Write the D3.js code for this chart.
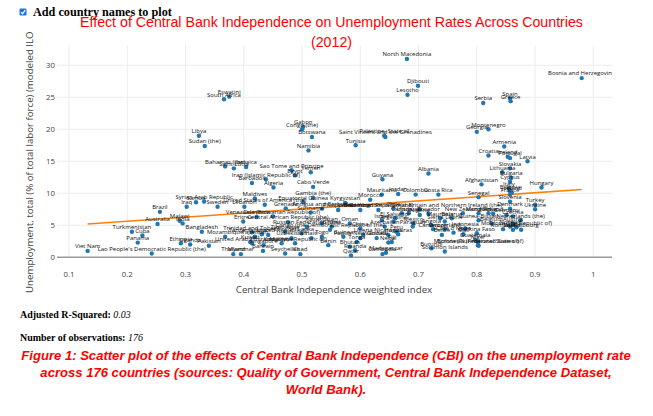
<!DOCTYPE html>
<html><head><meta charset="utf-8">
<script src="https://cdn.jsdelivr.net/npm/d3@7"></script>
<style>
body{margin:0;background:#fff;overflow:hidden;}
svg{position:absolute;left:0;top:0;}
</style></head><body>
<svg id="chart" width="653" height="416"></svg>
<script>
const countries = ["North Macedonia","Bosnia and Herzegovina","Djibouti","Lesotho","Eswatini","South Africa","Spain","Greece","Serbia","Gabon",
"Congo (the)","Montenegro","Georgia","Libya","Botswana","Saint Vincent and the Grenadines","Palestine, State of","Tunisia","Sudan (the)","Armenia",
"Namibia","Croatia","Portugal","Ireland","Latvia","Slovakia","Lithuania","Bulgaria","Cyprus","Afghanistan",
"Hungary","Italy","Estonia","Iceland","France","Senegal","Slovenia","Turkey","Ukraine","Albania",
"Guyana","Costa Rica","Colombia","Mauritania","Jordan","Morocco","Bahamas (the)","Saint Lucia","Jamaica","Sao Tome and Principe",
"Yemen","Egypt","Iran (Islamic Republic of)","Barbados","Algeria","Cabo Verde","Maldives","Gambia (the)","Equatorial Guinea","Kyrgyzstan",
"United States of America (the)","Syrian Arab Republic","Sweden","Iraq","Brazil","Lebanon","Samoa","Venezuela (Bolivarian Republic of)","Eritrea","Australia",
"Malawi","India","Bangladesh","Turkmenistan","Cuba","Mozambique","Panama","Ethiopia","Uganda","Pakistan",
"Viet Nam","Lao People's Democratic Republic (the)","Thailand","Myanmar","Kuwait","Trinidad and Tobago","Japan","Bahrain","Chad","Rwanda",
"Qatar","Cambodia","Madagascar","Papua New Guinea","Nepal","Honduras","Burundi","Solomon Islands","Bolivia (Plurinational State of)","Burkina Faso",
"Guatemala","Niger","Switzerland","Cameroon","New Zealand","Belarus","Guinea-Bissau","Netherlands (the)","Sierra Leone","Germany",
"Austria","Belgium","Finland","Denmark","Czechia","Luxembourg","Malta","Romania","Indonesia","United Kingdom of Great Britain and Northern Ireland (the)",
"Canada","Uruguay","Ecuador","Norway","Moldova (the Republic of)","Kenya","Côte d'Ivoire","Mali","Micronesia (Federated States of)","Mongolia",
"Grenada","Philippines","Zambia","Dominican Republic (the)","Chile","Oman","Israel","Argentina","Azerbaijan","Nicaragua",
"Peru","Kazakhstan","Ghana","Russian Federation (the)","Sri Lanka","Zimbabwe","Tanzania, United Republic of","Tajikistan","Uzbekistan","Haiti",
"Togo","Guinea","Liberia","Tonga","Vanuatu","United Arab Emirates (the)","Singapore","Malaysia","Korea (the Republic of)","Benin",
"Bhutan","Fiji","Seychelles","Dominica","Antigua and Barbuda","Central African Republic (the)","Congo (the Democratic Republic of the)","Nigeria","Angola","Mauritius",
"Belize","Suriname","China","Paraguay","El Salvador","Mexico"];

const cbi = [0.680,0.980,0.699,0.681,0.375,0.366,0.857,0.858,0.811,0.502,
0.500,0.820,0.800,0.323,0.517,0.643,0.641,0.592,0.333,0.847,
0.511,0.820,0.857,0.853,0.887,0.857,0.844,0.859,0.857,0.808,
0.911,0.855,0.857,0.860,0.857,0.803,0.857,0.900,0.900,0.717,
0.638,0.734,0.695,0.637,0.665,0.617,0.368,0.383,0.404,0.482,
0.515,0.488,0.438,0.414,0.451,0.519,0.419,0.519,0.502,0.574,
0.436,0.332,0.355,0.302,0.256,0.401,0.318,0.450,0.399,0.252,
0.290,0.295,0.328,0.208,0.226,0.368,0.218,0.292,0.308,0.340,
0.132,0.242,0.382,0.395,0.411,0.414,0.431,0.433,0.497,0.591,
0.584,0.638,0.644,0.600,0.648,0.665,0.722,0.745,0.802,0.800,
0.797,0.802,0.745,0.725,0.776,0.757,0.803,0.875,0.745,0.851,
0.862,0.825,0.828,0.857,0.862,0.876,0.862,0.845,0.780,0.702,
0.671,0.683,0.717,0.857,0.868,0.820,0.760,0.777,0.803,0.803,
0.472,0.562,0.600,0.631,0.657,0.582,0.637,0.657,0.642,0.648,
0.662,0.534,0.551,0.508,0.499,0.471,0.442,0.419,0.482,0.516,
0.534,0.571,0.605,0.594,0.628,0.414,0.434,0.465,0.488,0.545,
0.582,0.654,0.471,0.422,0.534,0.476,0.548,0.702,0.722,0.737,
0.740,0.515,0.600,0.690,0.660,0.691];

const unemployment = [31.0,28.0,26.8,25.4,25.1,24.7,24.8,24.4,24.1,20.4,
20.0,20.0,19.6,19.0,18.8,18.8,19.0,17.5,17.4,17.3,
16.7,15.9,15.5,15.7,15.0,13.9,13.3,12.4,11.8,11.4,
10.9,10.8,10.3,10.1,9.8,9.4,8.7,8.2,7.5,13.1,
12.2,9.8,9.8,9.8,9.9,9.0,14.2,13.9,14.1,13.6,
13.3,12.8,12.2,11.6,10.9,11.0,9.2,9.3,8.6,8.5,
8.2,8.7,7.9,7.9,7.1,7.9,8.6,6.4,5.6,5.2,
5.7,5.3,4.0,4.0,3.4,3.2,2.3,2.2,2.0,1.8,
1.0,0.6,0.5,0.5,2.4,3.9,3.6,1.0,0.5,1.1,
0.3,0.5,0.7,3.0,2.3,3.6,1.4,0.9,1.9,3.75,
2.7,2.4,4.4,4.4,6.9,6.1,5.8,5.8,5.6,6.6,
5.3,5.3,6.8,7.6,6.4,4.3,4.3,4.4,4.5,7.5,
6.9,6.9,6.8,4.8,4.7,6.9,3.85,3.6,1.8,6.9,
7.65,7.4,7.4,7.4,7.65,5.3,5.8,5.6,4.8,3.5,
4.0,5.3,4.8,4.8,3.75,4.0,3.5,3.2,3.0,3.0,
3.2,3.2,3.5,2.4,3.0,2.2,1.9,2.2,2.2,1.9,
1.65,2.4,0.6,6.3,7.6,5.5,4.3,6.6,5.0,6.1,
3.5,7.0,4.5,4.8,6.1,5.3];

const xTickValues = [0.1,0.2,0.3,0.4,0.5,0.6,0.7,0.8,0.9,1];
const xTickLabels = ["0.1","0.2","0.3","0.4","0.5","0.6","0.7","0.8","0.9","1"];
const yTickValues = [0,5,10,15,20,25,30];
const fitIntercept = 4.36;
const fitSlope = 6.37;
const adjR2 = "0.03";
const nObs = "176";

const titleLines = ["Effect of Central Bank Independence on Unemployment Rates Across Countries","(2012)"];
const xTitle = "Central Bank Independence weighted index";
const yTitle = "Unemployment, total (% of total labor force) (modeled ILO estimate)";
const captionLines = ["Figure 1: Scatter plot of the effects of Central Bank Independence (CBI) on the unemployment rate",
"across 176 countries (sources: Quality of Government, Central Bank Independence Dataset,",
"World Bank)."];

const svg = d3.select("#chart");
const L = 57, R = 612, T = 45, B = 257.3;
const x = d3.scaleLinear().domain([0.0794, 1.0320]).range([L, R]);
const y = d3.scaleLinear().domain([0, 33.17]).range([B, T]);
const sans = "'Open Sans', verdana, arial, sans-serif";

function fit(sel, w){
  const l = sel.node().getComputedTextLength();
  const fs = parseFloat(sel.attr("font-size"));
  sel.attr("font-size", fs * w / l);
  return fs * w / l;
}

const defs = svg.append("defs");
defs.append("clipPath").attr("id","plotclip").append("rect")
  .attr("x", L).attr("y", T).attr("width", R-L).attr("height", B-T+3);
defs.append("clipPath").attr("id","yclip").append("rect")
  .attr("x", 0).attr("y", 29).attr("width", 60).attr("height", 400);

// checkbox
const cb = svg.append("g");
cb.append("rect").attr("x",19.5).attr("y",8.5).attr("width",7).attr("height",7).attr("rx",1.2)
  .attr("fill","#1a73e8");
cb.append("path").attr("d","M21,12.2 L22.6,13.8 L25.2,10.2").attr("fill","none")
  .attr("stroke","#fff").attr("stroke-width",1.3);
const cbl = svg.append("text").attr("x",33).attr("y",15.5)
  .attr("font-family","'Liberation Serif','Times New Roman',serif").attr("font-weight","bold")
  .attr("font-size",11).attr("fill","#000").text("Add country names to plot");
fit(cbl, 139);

// title
const t1 = svg.append("text").attr("x",331.5).attr("y",27).attr("text-anchor","middle")
  .attr("font-family","'Liberation Sans',Arial,sans-serif").attr("font-size",13.5).attr("fill","#ff0000")
  .text(titleLines[0]);
const tfs = fit(t1, 503);
svg.append("text").attr("x",331.5).attr("y",46.5).attr("text-anchor","middle")
  .attr("font-family","'Liberation Sans',Arial,sans-serif").attr("font-size",tfs).attr("fill","#ff0000")
  .text(titleLines[1]);

// grid
const grid = svg.append("g");
grid.selectAll("line.vx").data(xTickValues).join("line")
  .attr("x1", d=>x(d)).attr("x2", d=>x(d)).attr("y1", T).attr("y2", B)
  .attr("stroke","#ececec").attr("stroke-width",1);
grid.selectAll("line.hy").data(yTickValues.filter(d=>d>0)).join("line")
  .attr("x1", L).attr("x2", R).attr("y1", d=>y(d)).attr("y2", d=>y(d))
  .attr("stroke","#ececec").attr("stroke-width",1);
svg.append("line").attr("x1",L).attr("x2",R).attr("y1",y(0)).attr("y2",y(0))
  .attr("stroke","#9a9a9a").attr("stroke-width",1.5);

// ticks
svg.append("g").selectAll("text").data(xTickValues).join("text")
  .attr("x", d=>x(d)).attr("y", 277).attr("text-anchor","middle")
  .attr("font-family",sans).attr("font-size",7.8).attr("fill","#444")
  .text((d,i)=>xTickLabels[i]);
svg.append("g").selectAll("text").data(yTickValues).join("text")
  .attr("x", 55).attr("y", d=>y(d)+2.8).attr("text-anchor","end")
  .attr("font-family",sans).attr("font-size",7.8).attr("fill","#444")
  .text(d=>d);

// axis titles
const xt = svg.append("text").attr("x",334).attr("y",293).attr("text-anchor","middle")
  .attr("font-family",sans).attr("font-size",9).attr("fill","#444").text(xTitle);
const afs = fit(xt, 196.7);
svg.append("g").attr("clip-path","url(#yclip)").append("text")
  .attr("transform","translate(33,293) rotate(-90)").attr("text-anchor","start")
  .attr("font-family",sans).attr("font-size",afs).attr("fill","#444").text(yTitle);

// data
const pts = countries.map((c,i)=>({c, x:cbi[i], y:unemployment[i]}));
const plot = svg.append("g").attr("clip-path","url(#plotclip)");
const xmin = d3.min(cbi), xmax = d3.max(cbi);
plot.append("line")
  .attr("x1", x(xmin)).attr("y1", y(fitIntercept + fitSlope*xmin))
  .attr("x2", x(xmax)).attr("y2", y(fitIntercept + fitSlope*xmax))
  .attr("stroke","#ff7f0e").attr("stroke-width",1.6);
plot.append("g").selectAll("circle").data(pts).join("circle")
  .attr("cx", d=>x(d.x)).attr("cy", d=>y(d.y)).attr("r",2.2).attr("fill","#1f77b4");
const lbl = plot.append("g").selectAll("text").data(pts).join("text")
  .attr("x", d=>x(d.x)).attr("y", d=>y(d.y)-2.6).attr("text-anchor","middle")
  .attr("font-family",sans).attr("font-size",6).attr("fill","#111")
  .text(d=>d.c);
const probe = svg.append("text").attr("font-family",sans).attr("font-size",6).text("North Macedonia");
const lfs = 6*48.7/probe.node().getComputedTextLength();
probe.remove();
lbl.attr("font-size", lfs);

// stats
const serif = "'Liberation Serif','Times New Roman',serif";
const s1 = svg.append("text").attr("x",20).attr("y",317.5).attr("font-family",serif).attr("font-size",10).attr("fill","#000");
s1.append("tspan").attr("font-weight","bold").text("Adjusted R-Squared: ");
s1.append("tspan").attr("font-style","italic").text(adjR2);
const s2 = svg.append("text").attr("x",20).attr("y",340.5).attr("font-family",serif).attr("font-size",10).attr("fill","#000");
s2.append("tspan").attr("font-weight","bold").text("Number of observations: ");
s2.append("tspan").attr("font-style","italic").text(nObs);
const sfs = fit(s2, 123);
s1.attr("font-size", sfs);

// caption
const cap = svg.append("g");
const capY = [359.5, 376.5, 393.5];
const c0 = cap.append("text").attr("x",326).attr("y",capY[0]).attr("text-anchor","middle")
  .attr("font-family","'Liberation Sans',Arial,sans-serif").attr("font-weight","bold").attr("font-style","italic")
  .attr("font-size",12).attr("fill","#ff0000").text(captionLines[0]);
const cfs = fit(c0, 610);
captionLines.slice(1).forEach((t,i)=>{
  cap.append("text").attr("x",326).attr("y",capY[i+1]).attr("text-anchor","middle")
    .attr("font-family","'Liberation Sans',Arial,sans-serif").attr("font-weight","bold").attr("font-style","italic")
    .attr("font-size",cfs).attr("fill","#ff0000").text(t);
});
</script>
</body></html>
